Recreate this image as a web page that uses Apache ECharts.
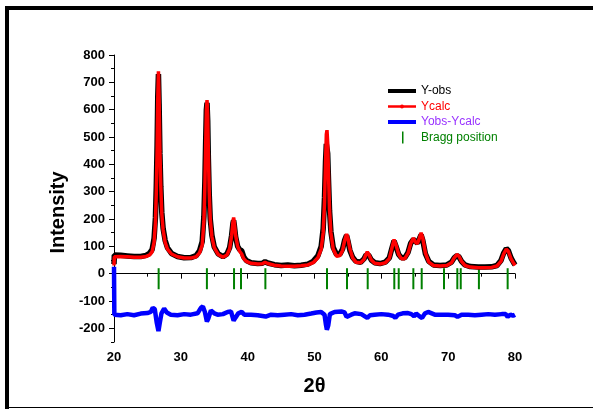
<!DOCTYPE html>
<html>
<head>
<meta charset="utf-8">
<script src="https://cdn.jsdelivr.net/npm/echarts@6/dist/echarts.min.js"></script>
<style>
  html, body { margin: 0; padding: 0; background: #fff; }
  #main { width: 593px; height: 409px; }
</style>
</head>
<body>
<div id="main"></div>
<script>
// 2theta / intensity pairs
const yCalc = [
  [20, 30], [20.05, 62], [21, 63], [22, 62], [23, 60], [24, 60], [24.8, 63], [25.3, 68], [25.7, 80],
  [26.0, 115], [26.2, 185], [26.33, 300], [26.45, 450], [26.55, 640], [26.65, 740], [26.75, 640],
  [26.87, 450], [27.0, 320], [27.15, 220], [27.35, 160], [27.65, 115], [28.0, 90], [28.6, 72], [29.5, 62],
  [30.5, 57], [31.5, 57], [32.3, 62], [32.8, 76], [33.2, 105], [33.45, 190], [33.6, 320], [33.72, 470],
  [33.82, 600], [33.92, 635], [34.02, 580], [34.12, 440], [34.25, 300], [34.4, 200], [34.65, 135], [35.0, 95],
  [35.6, 70], [36.3, 60], [36.9, 68], [37.3, 90], [37.6, 140], [37.8, 190], [37.9, 205], [38.0, 190],
  [38.2, 140], [38.5, 100], [38.8, 82], [39.1, 72], [39.4, 55], [39.8, 45], [40.5, 38], [41.5, 35],
  [42.2, 36], [42.6, 42], [43.0, 37], [44, 31], [45, 28], [46, 27], [47, 27], [48, 29], [49, 32],
  [49.8, 40], [50.5, 58], [51.0, 90], [51.3, 150], [51.5, 260], [51.65, 400], [51.77, 510], [51.87, 525],
  [51.97, 480], [52.1, 360], [52.25, 235], [52.45, 150], [52.8, 90], [53.3, 64], [53.8, 66], [54.2, 85],
  [54.5, 120], [54.8, 145], [55.0, 130], [55.3, 90], [55.7, 58], [56.2, 42], [56.9, 40], [57.4, 52],
  [57.7, 70], [57.9, 80], [58.1, 72], [58.5, 50], [59.0, 38], [59.8, 35], [60.6, 40], [61.2, 55],
  [61.6, 95], [61.9, 125], [62.2, 105], [62.6, 70], [63.0, 55], [63.5, 55], [64.0, 75], [64.4, 110],
  [64.8, 130], [65.1, 115], [65.4, 110], [65.7, 130], [65.95, 150], [66.2, 130], [66.6, 75], [67.1, 42],
  [67.8, 30], [68.8, 28], [69.8, 30], [70.5, 40], [70.9, 58], [71.3, 70], [71.6, 65], [72.0, 45],
  [72.5, 30], [73.3, 24], [74.5, 22], [75.5, 22], [76.5, 23], [77.3, 28], [77.9, 45], [78.3, 72],
  [78.7, 90], [79.0, 82], [79.4, 55], [79.8, 38], [80, 30]
];

const yObs = [
  [20, 35], [20.05, 68], [21, 67], [22, 65], [23, 63], [24, 63], [24.8, 67], [25.3, 74], [25.7, 88],
  [26.0, 130], [26.2, 205], [26.33, 320], [26.45, 470], [26.55, 650], [26.65, 730], [26.75, 620],
  [26.87, 440], [27.0, 320], [27.15, 225], [27.35, 165], [27.65, 122], [28.0, 95], [28.6, 74], [29.5, 63],
  [30.5, 58], [31.5, 59], [32.3, 66], [32.8, 84], [33.2, 118], [33.45, 210], [33.6, 340], [33.72, 490],
  [33.82, 600], [33.92, 625], [34.02, 560], [34.12, 420], [34.25, 290], [34.4, 200], [34.65, 140], [35.0, 98],
  [35.6, 72], [36.3, 62], [36.9, 72], [37.3, 95], [37.6, 140], [37.8, 185], [37.9, 195], [38.0, 178],
  [38.2, 135], [38.5, 100], [38.8, 88], [39.1, 84], [39.4, 62], [39.8, 48], [40.5, 40], [41.5, 37],
  [42.2, 38], [42.6, 44], [43.0, 39], [44, 33], [45, 30], [46, 32], [47, 29], [48, 31], [49, 35],
  [49.8, 45], [50.5, 65], [51.0, 100], [51.3, 165], [51.5, 280], [51.65, 410], [51.77, 475], [51.87, 480],
  [51.97, 440], [52.1, 340], [52.25, 230], [52.45, 155], [52.8, 96], [53.3, 70], [53.8, 71], [54.2, 90],
  [54.5, 122], [54.8, 140], [55.0, 120], [55.3, 85], [55.7, 60], [56.2, 45], [56.9, 42], [57.4, 54],
  [57.7, 68], [57.9, 75], [58.1, 68], [58.5, 50], [59.0, 40], [59.8, 37], [60.6, 42], [61.2, 58],
  [61.6, 95], [61.9, 120], [62.2, 100], [62.6, 70], [63.0, 58], [63.5, 58], [64.0, 78], [64.4, 112],
  [64.8, 125], [65.1, 118], [65.4, 112], [65.7, 128], [65.95, 142], [66.2, 122], [66.6, 72], [67.1, 45],
  [67.8, 32], [68.8, 30], [69.8, 32], [70.5, 42], [70.9, 58], [71.3, 66], [71.6, 62], [72.0, 45],
  [72.5, 32], [73.3, 26], [74.5, 24], [75.5, 24], [76.5, 25], [77.3, 30], [77.9, 48], [78.3, 75],
  [78.7, 92], [79.0, 85], [79.4, 58], [79.8, 40], [80, 32]
];

const yDiff = [
  [20, 25], [20.05, -150], [21, -152], [22, -148], [23, -152], [24, -146], [25, -144], [25.5, -140],
  [25.8, -125], [26.1, -130], [26.4, -180], [26.65, -210], [26.85, -180], [27.1, -145], [27.5, -128],
  [27.9, -142], [28.5, -150], [29.5, -152], [30.5, -148], [31.5, -150], [32.5, -145], [33.0, -125],
  [33.3, -120], [33.6, -140], [33.9, -175], [34.1, -165], [34.5, -135], [35, -145], [35.5, -150],
  [36.3, -148], [37.0, -140], [37.5, -138], [37.9, -172], [38.2, -160], [38.6, -145], [39.1, -140],
  [39.5, -150], [40.5, -150], [41.5, -152], [42.7, -157], [43.5, -150], [44.5, -152], [45.5, -150],
  [46.5, -148], [47.5, -152], [48.5, -150], [49.5, -146], [50.3, -142], [51.0, -140], [51.5, -150],
  [51.7, -185], [51.85, -205], [52.05, -190], [52.3, -148], [53.0, -140], [54.0, -138], [54.5, -142],
  [54.8, -158], [55.0, -165], [55.5, -150], [56.0, -145], [57.0, -148], [57.9, -162], [58.3, -152],
  [59.0, -150], [60.0, -148], [61.0, -150], [61.8, -155], [62.1, -162], [62.5, -150], [63.2, -145],
  [64.0, -144], [64.5, -148], [64.9, -156], [65.2, -146], [65.8, -158], [66.1, -162], [66.5, -146],
  [67.0, -140], [68.0, -150], [69.0, -150], [70.0, -150], [71.0, -152], [71.4, -158], [72.0, -150],
  [73.0, -150], [74.0, -152], [75.0, -150], [76.0, -148], [77.0, -150], [78.0, -148], [78.6, -148],
  [78.9, -158], [79.3, -150], [79.7, -154], [80, -150]
];

// Bragg reflections (2theta)
const braggPos = [26.68, 33.9, 37.96, 39.0, 42.65, 51.87, 54.86, 57.96, 61.94, 62.6, 64.79, 66.04,
  69.38, 71.37, 71.88, 74.6, 78.9];

const xTicks = [20, 30, 40, 50, 60, 70, 80];
const yTicks = [-200, -100, 0, 100, 200, 300, 400, 500, 600, 700, 800];

let myChart = echarts.init(document.getElementById('main'));

const fontFam = 'Arial, "Liberation Sans", sans-serif';

// legend icons: 28x12 box, corner specks keep the box size
const lineIcon = (h) => 'path://M0,0h0.01v0.01h-0.01z M27.99,11.99h0.01v0.01h-0.01z M0,' + (6 - h / 2) +
  'h28v' + h + 'h-28z M12,6a2,2 0 1,1 4,0a2,2 0 1,1 -4,0z';
const braggIcon = 'path://M0,0h0.01v0.01h-0.01z M27.99,11.99h0.01v0.01h-0.01z M14,0h1.5v12h-1.5z';

let option = {
  animation: false,
  backgroundColor: '#fff',
  grid: { left: 114, right: 78, top: 55, bottom: 67 },
  legend: {
    orient: 'vertical',
    left: 388,
    top: 85,
    padding: 0,
    itemWidth: 28,
    itemHeight: 12,
    itemGap: 3.5,
    textStyle: { fontFamily: fontFam, fontSize: 12 },
    data: [
      { name: 'Y-obs', icon: lineIcon(4), textStyle: { color: '#000' } },
      { name: 'Ycalc', icon: lineIcon(2.5), textStyle: { color: '#ff0000' } },
      { name: 'Yobs-Ycalc', icon: lineIcon(4), textStyle: { color: '#9933ff' } },
      { name: 'Bragg position', icon: braggIcon, itemStyle: { color: '#008000' }, textStyle: { color: '#008000' } }
    ]
  },
  xAxis: {
    type: 'value',
    min: xTicks[0],
    max: xTicks[xTicks.length - 1],
    interval: 10,
    name: '2θ',
    nameLocation: 'middle',
    nameGap: 34,
    nameTextStyle: { fontFamily: fontFam, fontSize: 20, fontWeight: 'bold', color: '#000' },
    axisLine: { lineStyle: { color: '#000', width: 1 } },
    axisTick: { inside: false, length: 5, lineStyle: { color: '#000' } },
    minorTick: { show: true, splitNumber: 2, length: 3, lineStyle: { color: '#000' } },
    axisLabel: { margin: 9, fontFamily: fontFam, fontSize: 13, fontWeight: 'bold', color: '#000' },
    splitLine: { show: false }
  },
  yAxis: [
    {
      type: 'value',
      min: -250,
      max: yTicks[yTicks.length - 1],
      interval: 50,
      name: 'Intensity',
      nameLocation: 'middle',
      nameRotate: 90,
      nameGap: 44,
      nameTextStyle: { fontFamily: fontFam, fontSize: 20, fontWeight: 'bold', color: '#000', padding: [0, 28, 0, 0] },
      axisLine: { show: true, lineStyle: { color: '#000', width: 1 } },
      axisTick: { show: true, inside: false, length: 5, customValues: yTicks, lineStyle: { color: '#000' } },
      axisLabel: {
        margin: 9, fontFamily: fontFam, fontSize: 13, fontWeight: 'bold', color: '#000',
        customValues: yTicks
      },
      splitLine: { show: false }
    },
    {
      // minor ticks only
      type: 'value',
      position: 'left',
      min: -250,
      max: yTicks[yTicks.length - 1],
      interval: 50,
      axisLine: { show: false },
      axisTick: { show: true, inside: false, length: 3, lineStyle: { color: '#000' } },
      axisLabel: { show: false },
      splitLine: { show: false }
    }
  ],
  series: [
    {
      name: 'Y-obs',
      type: 'line',
      data: yObs,
      showSymbol: false,
      itemStyle: { color: '#000' },
      lineStyle: { color: '#000', width: 5.5 },
      z: 2
    },
    {
      name: 'Ycalc',
      type: 'line',
      data: yCalc,
      showSymbol: false,
      itemStyle: { color: '#ff0000' },
      lineStyle: { color: '#ff0000', width: 3.5 },
      z: 3
    },
    {
      name: 'Yobs-Ycalc',
      type: 'line',
      data: yDiff,
      showSymbol: false,
      itemStyle: { color: '#0000ff' },
      lineStyle: { color: '#0000ff', width: 4.5 },
      z: 2
    },
    {
      name: 'Bragg position',
      type: 'custom',
      data: braggPos.map(v => [v]),
      itemStyle: { color: '#008000' },
      renderItem: (params, api) => {
        const top = api.coord([api.value(0), 20]);
        const bot = api.coord([api.value(0), -57]);
        return {
          type: 'line',
          shape: { x1: top[0], y1: top[1], x2: bot[0], y2: bot[1] },
          style: { stroke: '#008000', lineWidth: 2 }
        };
      },
      z: 2
    }
  ],
  graphic: [
    // frame around the figure
    { type: 'rect', left: 5, top: 6, shape: { width: 4, height: 403 }, style: { fill: '#000' } },
    { type: 'rect', left: 5, top: 6, shape: { width: 588, height: 4 }, style: { fill: '#000' } },
    { type: 'rect', left: 5, top: 407, shape: { width: 588, height: 1 }, style: { fill: '#000' } }
  ]
};

myChart.setOption(option);
window.onresize = () => {
  myChart.resize()
}
</script>
</body>
</html>
